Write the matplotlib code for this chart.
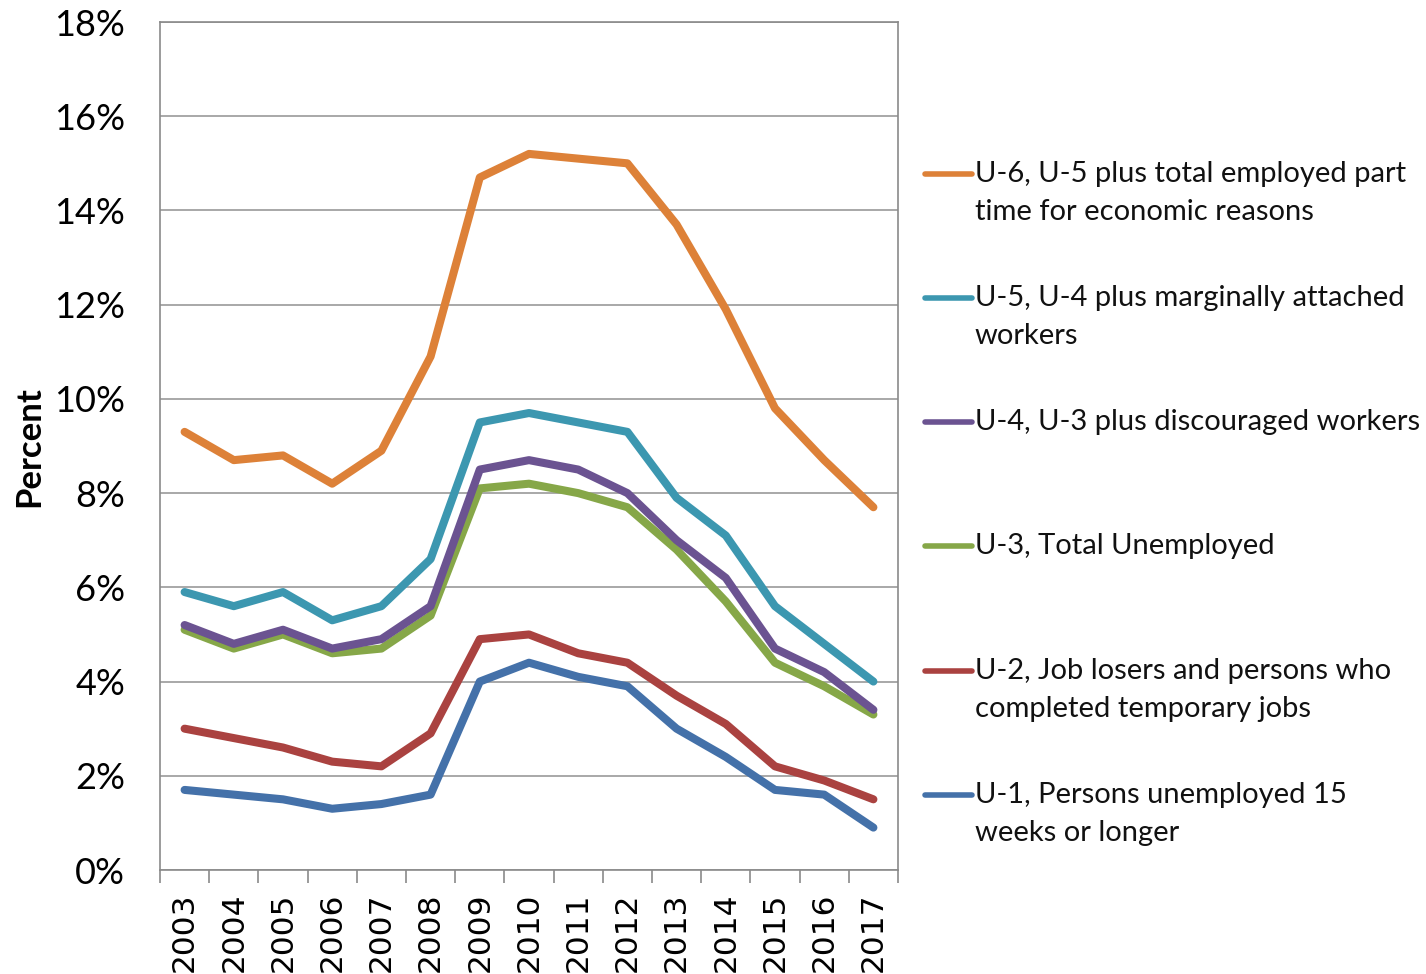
import matplotlib
matplotlib.use("Agg")
import matplotlib.pyplot as plt
from matplotlib.lines import Line2D
from matplotlib.ticker import FuncFormatter

years = ['2003', '2004', '2005', '2006', '2007', '2008', '2009', '2010',
         '2011', '2012', '2013', '2014', '2015', '2016', '2017']

u6 = [9.3, 8.7, 8.8, 8.2, 8.9, 10.9, 14.7, 15.2, 15.1, 15.0, 13.7, 11.9, 9.8, 8.7, 7.7]
u5 = [5.9, 5.6, 5.9, 5.3, 5.6, 6.6, 9.5, 9.7, 9.5, 9.3, 7.9, 7.1, 5.6, 4.8, 4.0]
u4 = [5.2, 4.8, 5.1, 4.7, 4.9, 5.6, 8.5, 8.7, 8.5, 8.0, 7.0, 6.2, 4.7, 4.2, 3.4]
u3 = [5.1, 4.7, 5.0, 4.6, 4.7, 5.4, 8.1, 8.2, 8.0, 7.7, 6.8, 5.7, 4.4, 3.9, 3.3]
u2 = [3.0, 2.8, 2.6, 2.3, 2.2, 2.9, 4.9, 5.0, 4.6, 4.4, 3.7, 3.1, 2.2, 1.9, 1.5]
u1 = [1.7, 1.6, 1.5, 1.3, 1.4, 1.6, 4.0, 4.4, 4.1, 3.9, 3.0, 2.4, 1.7, 1.6, 0.9]

labels = ['U-6, U-5 plus total employed part\ntime for economic reasons',
          'U-5, U-4 plus marginally attached\nworkers',
          'U-4, U-3 plus discouraged workers',
          'U-3, Total Unemployed',
          'U-2, Job losers and persons who\ncompleted temporary jobs',
          'U-1, Persons unemployed 15\nweeks or longer']
colors = ['#DD8138', '#3C97B0', '#6B5391', '#86A748', '#AA4240', '#4471A9']
series = [u6, u5, u4, u3, u2, u1]

W, H = 1426, 974
fig = plt.figure(figsize=(W / 100, H / 100), dpi=100)
ax = fig.add_axes([160 / W, 1 - 870 / H, 738 / W, 848 / H])

x = list(range(len(years)))
# draw bottom series first so the upper ones sit on top
for vals, col in zip(series[::-1], colors[::-1]):
    ax.plot(x, vals, color=col, lw=5.8, solid_capstyle='round', solid_joinstyle='round')

ax.set_xlim(-0.5, len(years) - 0.5)
ax.set_ylim(0, 18)
ax.set_yticks(range(0, 19, 2))
ax.yaxis.set_major_formatter(FuncFormatter(lambda v, p: f'{int(v)}%'))
ax.grid(axis='y', color='#9a9a9a', lw=1.2)
ax.set_axisbelow(True)

# category boundaries get the tick marks, centres get the labels
ax.set_xticks([i - 0.5 for i in range(len(years) + 1)])
ax.set_xticklabels([])
ax.set_xticks(x, minor=True)
ax.set_xticklabels(years, minor=True, rotation=90, fontsize=22.5, fontfamily='DejaVu Sans')
ax.tick_params(axis='x', which='major', length=9, color='#8a8a8a', width=1.2)
ax.tick_params(axis='x', which='minor', length=0, pad=16)
ax.tick_params(axis='y', length=0, pad=25, labelsize=26)
for lab in ax.get_yticklabels():
    lab.set_fontfamily('Lato')

for s in ax.spines.values():
    s.set_color('#8a8a8a')
    s.set_linewidth(1.2)

ax.set_ylabel('Percent', fontsize=25, fontweight='bold', fontfamily='Lato')
ax.yaxis.set_label_coords(-0.156, 0.499)

# legend drawn by hand so the swatch lines up with the first text line
ys = [174, 298, 422, 546, 671, 795]
for lab, col, yp in zip(labels, colors, ys):
    yf = 1 - yp / H
    fig.add_artist(Line2D([925 / W, 972 / W], [yf, yf], color=col, lw=4,
                          solid_capstyle='round'))
    for k, line in enumerate(lab.split('\n')):
        fig.text(975 / W, 1 - (yp + 38 * k) / H, line, fontsize=21,
                 fontfamily='Lato', va='center', ha='left', color='#111111')

fig.savefig('out.png', dpi=100)
